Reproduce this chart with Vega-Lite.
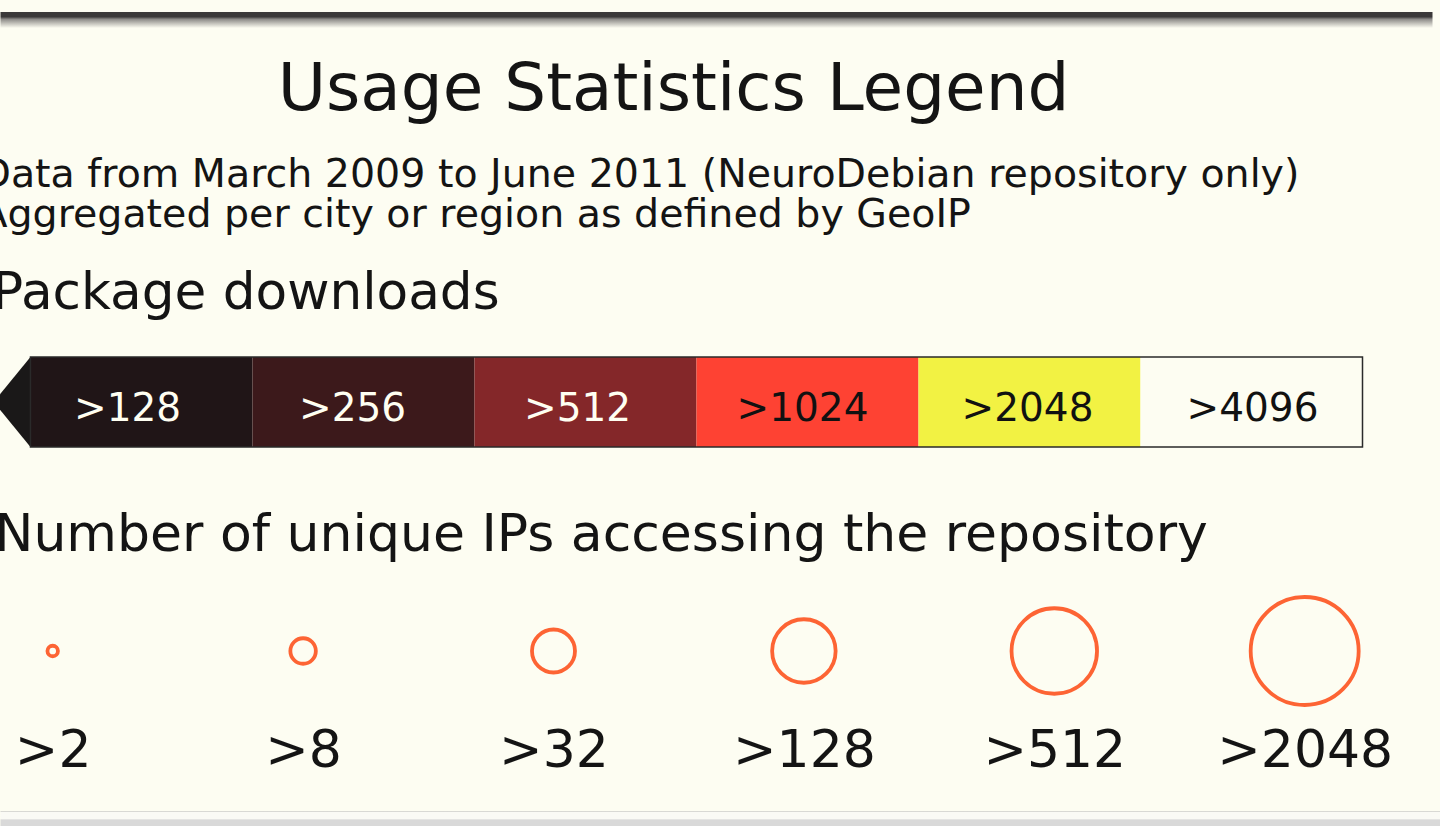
{
  "$schema": "https://vega.github.io/schema/vega-lite/v6.json",
  "background": "#fdfdf2",
  "padding": {"left": -19.5, "top": 12, "right": 0, "bottom": 0},
  "config": {
    "font": "DejaVu Sans",
    "view": {"stroke": null},
    "concat": {"spacing": 0},
    "title": {"font": "DejaVu Sans", "fontWeight": "normal", "color": "#141414", "anchor": "start"}
  },
  "datasets": {
    "downloads": [
      {"label": ">128", "from": 128, "to": 256},
      {"label": ">256", "from": 256, "to": 512},
      {"label": ">512", "from": 512, "to": 1024},
      {"label": ">1024", "from": 1024, "to": 2048},
      {"label": ">2048", "from": 2048, "to": 4096},
      {"label": ">4096", "from": 4096, "to": 8192}
    ],
    "ips": [
      {"label": ">2", "from": 2},
      {"label": ">8", "from": 8},
      {"label": ">32", "from": 32},
      {"label": ">128", "from": 128},
      {"label": ">512", "from": 512},
      {"label": ">2048", "from": 2048}
    ]
  },
  "vconcat": [
    {
      "width": 1432,
      "height": 16,
      "data": {"values": [{"part": "frame"}]},
      "mark": {"type": "rect", "fill": {"gradient": "linear", "x1": 0, "y1": 0, "x2": 0, "y2": 1, "stops": [{"offset": 0, "color": "#3b3939"}, {"offset": 0.3, "color": "#3b3939"}, {"offset": 0.45, "color": "#8d8b88"}, {"offset": 1, "color": "#fdfdf2"}]}},
      "encoding": {},
      "title": {"text": "Usage Statistics Legend", "orient": "bottom", "anchor": "middle", "fontSize": 66, "dx": -43, "offset": 30}
    },
    {
      "width": 1432,
      "height": 1,
      "data": {"values": []},
      "mark": "rect",
      "encoding": {},
      "title": {"text": ["Data from March 2009 to June 2011 (NeuroDebian repository only)", "Aggregated per city or region as defined by GeoIP"], "orient": "bottom", "anchor": "start", "fontSize": 39.5, "lineHeight": 40, "offset": 32, "dx": -20}
    },
    {
      "width": 1432,
      "height": 32,
      "data": {"values": []},
      "mark": "rect",
      "encoding": {}
    },
    {
      "width": 1362,
      "height": 90,
      "data": {"name": "downloads"},
      "title": {"text": "Package downloads", "orient": "top", "anchor": "start", "fontSize": 51.7, "dx": -6, "offset": 37},
      "layer": [
        {
          "mark": {"type": "rect"},
          "encoding": {
            "x": {"field": "from", "type": "quantitative", "scale": {"type": "log", "base": 2, "domain": [116.57, 8192], "nice": false, "zero": false}, "axis": null},
            "x2": {"field": "to"},
            "color": {"field": "label", "type": "nominal", "scale": {"domain": [">128", ">256", ">512", ">1024", ">2048", ">4096"], "range": ["#201517", "#3c191b", "#842729", "#fe4233", "#f2f243", "#fdfdf2"]}, "legend": null}
          }
        },
        {
          "transform": [{"filter": "datum.from == 128"}],
          "mark": {"type": "point", "shape": "M0,-1L-0.72,-0.12L-0.72,0.12L0,1Z", "filled": true, "size": 8100, "color": "#1a1818", "opacity": 1, "strokeWidth": 0},
          "encoding": {
            "x": {"field": "from", "type": "quantitative", "scale": {"type": "log", "base": 2, "domain": [116.57, 8192], "nice": false, "zero": false}, "axis": null}
          }
        },
        {
          "transform": [{"aggregate": [{"op": "min", "field": "from", "as": "from"}, {"op": "max", "field": "to", "as": "to"}]}],
          "mark": {"type": "rect", "fillOpacity": 0, "stroke": "#2a2a2a", "strokeWidth": 1.5},
          "encoding": {
            "x": {"field": "from", "type": "quantitative", "scale": {"type": "log", "base": 2, "domain": [116.57, 8192], "nice": false, "zero": false}, "axis": null},
            "x2": {"field": "to"}
          }
        },
        {
          "mark": {"type": "text", "fontSize": 39, "dx": 112.5, "dy": 7, "align": "center", "baseline": "middle"},
          "encoding": {
            "x": {"field": "from", "type": "quantitative", "scale": {"type": "log", "base": 2, "domain": [122.4, 8129.2], "nice": false, "zero": false}, "axis": null},
            "text": {"field": "label"},
            "color": {"condition": {"test": "datum.from <= 512", "value": "#fffff2"}, "value": "#111111"}
          }
        }
      ],
      "resolve": {"scale": {"color": "independent", "x": "independent"}, "axis": {"x": "independent"}}
    },
    {
      "width": 1432,
      "height": 61,
      "data": {"values": []},
      "mark": "rect",
      "encoding": {}
    },
    {
      "width": 1432,
      "height": 120,
      "data": {"name": "ips"},
      "title": {"text": "Number of unique IPs accessing the repository", "orient": "top", "anchor": "start", "fontSize": 52, "dx": -6, "offset": 27},
      "mark": {"type": "point", "shape": "circle", "filled": false, "stroke": "#fd6434", "strokeWidth": 3.8, "opacity": 1},
      "encoding": {
        "x": {"field": "from", "type": "quantitative", "scale": {"type": "log", "base": 2, "domain": [1.498, 4156], "nice": false, "zero": false},
          "axis": {"values": [2, 8, 32, 128, 512, 2048], "labelExpr": "'>' + datum.value", "labelFontSize": 52, "labelColor": "#141414", "labelFont": "DejaVu Sans", "domain": false, "ticks": false, "grid": false, "title": null, "labelPadding": 14, "labelOverlap": false, "labelFlush": false, "labelBound": false, "labelLimit": 0}},
        "size": {"field": "from", "type": "quantitative", "scale": {"type": "linear", "domain": [2, 8, 32, 128, 512, 2048], "range": [110, 650, 1849, 4032, 7310, 11664]}, "legend": null}
      }
    },
    {
      "width": 1432,
      "height": 35,
      "data": {"values": []},
      "mark": "rect",
      "encoding": {}
    },
    {
      "width": 1440,
      "height": 15,
      "data": {"values": [{"part": "frame"}]},
      "mark": {"type": "rect", "fill": {"gradient": "linear", "x1": 0, "y1": 0, "x2": 0, "y2": 1, "stops": [{"offset": 0, "color": "#c8c8c4"}, {"offset": 0.1, "color": "#fafaf5"}, {"offset": 0.5, "color": "#fafaf5"}, {"offset": 0.6, "color": "#d9d9d9"}, {"offset": 1, "color": "#d9d9d9"}]}},
      "encoding": {}
    }
  ]
}
